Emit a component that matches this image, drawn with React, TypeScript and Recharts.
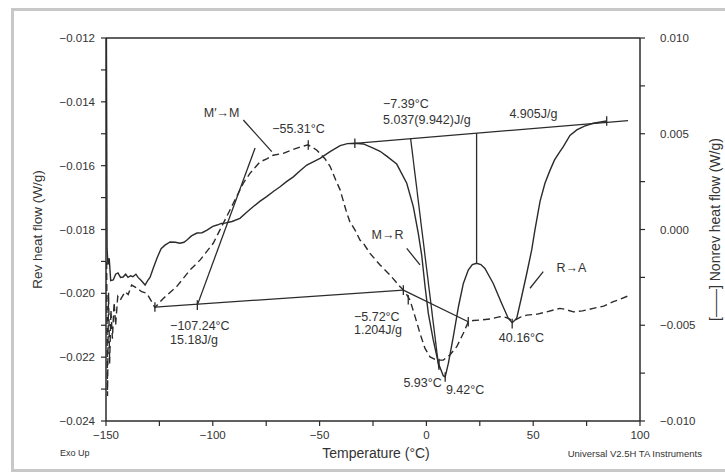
import React from 'react';
import { ComposedChart, Line, XAxis, YAxis, ReferenceLine, ReferenceDot, Label } from 'recharts';

// Reversing heat flow (solid curve, left axis, W/g)
const revTemp = [
  -149.8, -149.5, -149.1, -148.5, -147.8, -146.6, -145.5, -144.4, -143.2, -142.0,
  -140.8, -139.7, -138.5, -137.4, -136.0, -135.0, -133.5, -131.7, -130.5, -129.4,
  -127.8, -126.1, -124.2, -122.4, -120.0, -117.5, -115.4, -113.5, -112.1, -110.0,
  -107.4, -105.0, -102.7, -100.0, -98.0, -96.0, -94.3, -91.0, -87.3, -84.0,
  -81.0, -78.0, -74.8, -71.5, -68.5, -65.5, -62.3, -59.0, -56.0, -53.0,
  -49.8, -45.1, -40.4, -37.0, -33.5, -29.5, -24.9, -21.7, -18.6, -13.9,
  -9.2, -6.1, -3.8, -2.2, -0.6, 0.9, 3.2, 5.6, 7.9, 8.8,
  10.3, 12.6, 15.0, 17.3, 19.6, 21.5, 23.5, 25.5, 27.4, 31.3,
  35.2, 38.3, 40.2, 42.3, 44.6, 47.0, 49.3, 50.8, 53.2, 55.5,
  57.9, 60.0, 62.5, 64.1, 67.2, 70.4, 74.0, 78.1, 84.4,
];
const revFlow = [
  -0.0120, -0.0186, -0.0191, -0.0189, -0.0196, -0.01958, -0.0194, -0.01936, -0.0195, -0.01949,
  -0.0194, -0.0195, -0.01945, -0.01948, -0.0194, -0.0195, -0.0196, -0.01974, -0.0196, -0.0195,
  -0.0192, -0.01889, -0.0186, -0.01849, -0.01839, -0.0184, -0.01843, -0.0184, -0.01833, -0.0182,
  -0.01811, -0.0181, -0.01802, -0.0179, -0.01786, -0.01781, -0.0178, -0.01775, -0.01765, -0.01745,
  -0.01728, -0.01712, -0.01697, -0.0168, -0.01666, -0.0165, -0.01635, -0.01615, -0.01598, -0.01588,
  -0.01577, -0.01556, -0.01537, -0.01531, -0.0153, -0.01532, -0.01545, -0.01555, -0.0157, -0.01595,
  -0.01655, -0.01729, -0.01812, -0.0188, -0.0198, -0.02063, -0.02146, -0.02219, -0.02258, -0.02262,
  -0.02219, -0.02136, -0.02042, -0.01969, -0.01927, -0.0191, -0.01906, -0.0191, -0.01922, -0.01969,
  -0.02031, -0.02078, -0.02092, -0.02078, -0.0201, -0.01937, -0.01864, -0.01802, -0.01712, -0.01655,
  -0.01614, -0.01582, -0.01556, -0.0154, -0.01505, -0.01488, -0.01476, -0.01467, -0.0146,
];

// Non-reversing heat flow (dashed curve, right axis, W/g)
const nonrevTemp = [
  -149.7, -149.3, -148.8, -148.3, -147.7, -147.0, -146.2, -145.5, -144.5, -143.4,
  -141.1, -139.6, -138.0, -135.6, -133.3, -130.9, -128.6, -127.1, -123.2, -116.9,
  -110.7, -106.0, -99.8, -95.1, -90.4, -85.7, -82.6, -77.9, -74.5, -71.7,
  -67.0, -62.4, -58.5, -55.3, -51.4, -47.5, -45.1, -42.5, -40.4, -37.3,
  -35.8, -33.4, -31.1, -29.5, -26.4, -21.7, -17.0, -12.4, -10.0, -7.7,
  -5.3, -3.0, -0.7, 1.7, 4.8, 7.9, 11.0, 14.2, 17.3, 19.6,
  22.0, 25.1, 30.0, 34.5, 37.5, 39.9, 42.0, 44.0, 47.0, 52.0,
  56.3, 62.5, 65.0, 68.8, 73.0, 78.1, 83.0, 87.5, 91.0, 94.4,
];
const nonrevFlow = [
  -0.0017, -0.0087, -0.0033, -0.0070, -0.0042, -0.0057, -0.0038, -0.0050, -0.0035, -0.0037,
  -0.00325, -0.0034, -0.0029, -0.00305, -0.00325, -0.00333, -0.00377, -0.00408, -0.0036, -0.00298,
  -0.00212, -0.0016, -0.00072, 0.00032, 0.00137, 0.00242, 0.00293, 0.00353, 0.0037, 0.00388,
  0.00398, 0.00418, 0.00433, 0.00442, 0.00415, 0.0037, 0.0033, 0.0026, 0.00207, 0.00087,
  0.0004, -0.00003, -0.00055, -0.00072, -0.00125, -0.00185, -0.00238, -0.00298, -0.00325, -0.00368,
  -0.00455, -0.00542, -0.0062, -0.00665, -0.00682, -0.00682, -0.00655, -0.00612, -0.00542, -0.00482,
  -0.00475, -0.00473, -0.00467, -0.00455, -0.0046, -0.00473, -0.0047, -0.00458, -0.00447, -0.00442,
  -0.0043, -0.00412, -0.00417, -0.0043, -0.00425, -0.00412, -0.004, -0.00377, -0.00363, -0.00347,
];

// Axis ticks
const xTicks = [-150, -125, -100, -75, -50, -25, 0, 25, 50, 75, 100];
const leftTicks = [-0.024, -0.023, -0.022, -0.021, -0.020, -0.019, -0.018, -0.017, -0.016, -0.015, -0.014, -0.013, -0.012];
const rightTicks = [-0.01, -0.0075, -0.005, -0.0025, 0, 0.0025, 0.005, 0.0075, 0.01];

// Construction lines (left-axis units): [t1, y1, t2, y2]
const constructionLines = [
  [-107.24, -0.02037, -80.2, -0.015446],
  [-127.1, -0.02043, -10.8, -0.0199],
  [-10.8, -0.0199, 19.6, -0.02089],
  [-33.5, -0.0153, 94.4, -0.01459],
  [-7.39, -0.01515, 5.93, -0.0224],
  [23.5, -0.01498, 23.5, -0.01906],
  [-85.7, -0.01457, -72.4, -0.01556],
  [-9.2, -0.01859, -3.0, -0.01911],
  [54.7, -0.01932, 48.5, -0.01984],
];
// Small vertical markers (left-axis units)
const markerTemp = [-127.1, -107.24, -55.31, -33.5, 84.4, -10.8, -8.5, 19.6, 40.16, 8.8, 5.93];
const markerFlow = [-0.02043, -0.02037, -0.01535, -0.0153, -0.0146, -0.0199, -0.0202, -0.02089, -0.02095, -0.02262, -0.0222];

// Annotation texts: [text, t, y(left units), anchor]
const annotations: [string, number, number, string][] = [
  ['M\u2032\u2192M', -95.9, -0.014334, 'center'],
  ['\u221255.31\u00b0C', -59.9, -0.014829, 'center'],
  ['\u22127.39\u00b0C', -20.3, -0.014068, 'start'],
  ['5.037(9.942)J/g', -20.3, -0.014569, 'start'],
  ['4.905J/g', 50.1, -0.014359, 'center'],
  ['M\u2192R', -18.2, -0.018172, 'center'],
  ['R\u2192A', 67.9, -0.019206, 'center'],
  ['\u22125.72\u00b0C', -33.9, -0.020741, 'start'],
  ['1.204J/g', -33.9, -0.021149, 'start'],
  ['5.93\u00b0C', -1.8, -0.022809, 'center'],
  ['9.42\u00b0C', 18.1, -0.023029, 'center'],
  ['40.16\u00b0C', 44.5, -0.0214, 'center'],
  ['\u2212107.24\u00b0C', -120.0, -0.021024, 'start'],
  ['15.18J/g', -120.0, -0.021462, 'start'],
];

const revData = revTemp.map((t, i) => ({ t, v: revFlow[i] }));
const nonrevData = nonrevTemp.map((t, i) => ({ t, v: nonrevFlow[i] }));

const FONT = '"Liberation Sans", Arial, Helvetica, sans-serif';
const INK = '#2b2b2b';
const TXT = '#333';

const fmt = (v: number) => (v < -1e-9 ? '\u2212' : '') + Math.abs(v).toFixed(3);

const LeftTitle = (p: any) => {
  const vb = p.viewBox;
  const cx = vb.x + 37;
  const cy = vb.y + vb.height / 2;
  return (
    <text x={cx} y={cy} transform={`rotate(-90 ${cx} ${cy})`} textAnchor="middle" dominantBaseline="central"
      fontSize={13.5} fill={TXT} fontFamily={FONT}>Rev heat flow (W/g)</text>
  );
};
const RightTitle = (p: any) => {
  const vb = p.viewBox;
  const cx = vb.x + 75;
  const cy = vb.y + vb.height / 2;
  return (
    <text x={cx} y={cy} transform={`rotate(-90 ${cx} ${cy})`} textAnchor="middle" dominantBaseline="central"
      fontSize={14} fill={TXT} fontFamily={FONT}>[{'\u2014\u2014'}] Nonrev heat flow (W/g)</text>
  );
};
const BottomTitle = (p: any) => {
  const vb = p.viewBox;
  return (
    <text x={vb.x + 270} y={vb.y + 32} textAnchor="middle" dominantBaseline="central"
      fontSize={14} fill={TXT} fontFamily={FONT}>Temperature (°C)</text>
  );
};
const ExoUp = (p: any) => {
  const vb = p.viewBox;
  return (
    <text x={vb.x - 46} y={vb.y + 32} textAnchor="start" dominantBaseline="central"
      fontSize={9} fill={TXT} fontFamily={FONT}>Exo Up</text>
  );
};
const Credit = (p: any) => {
  const vb = p.viewBox;
  return (
    <text x={vb.x + vb.width + 62} y={vb.y + 32} textAnchor="end" dominantBaseline="central"
      fontSize={9.5} fill={TXT} fontFamily={FONT}>Universal V2.5H TA Instruments</text>
  );
};

const tickStyle = { fontSize: 11.5, fill: TXT, fontFamily: FONT };

export default function App() {
  return (
    <div style={{ position: 'relative', width: 725, height: 476, overflow: 'hidden', background: '#fff' }}>
      <style>{`body{margin:0;background:#fff;}`}</style>
      <div style={{ position: 'absolute', left: 11, top: 8, width: 740, height: 458, border: '3px solid #c8c8c8' }} />
      <div style={{ position: 'absolute', left: 0, top: 0 }}>
        <ComposedChart width={725} height={476} margin={{ top: 38, right: 0, bottom: 0, left: 0 }}>
          <XAxis
            dataKey="t"
            type="number"
            domain={[-150, 100]}
            allowDataOverflow
            ticks={xTicks}
            interval={0}
            height={55}
            tickSize={5}
            tickMargin={5}
            tickFormatter={(v: number) => (v % 50 === 0 ? (v < 0 ? '\u2212' + Math.abs(v) : String(v)) : '')}
            tick={tickStyle}
            stroke={INK}
            axisLine={{ stroke: INK, strokeWidth: 1.5 }}
            tickLine={{ stroke: INK, strokeWidth: 1.2 }}
          >
            <Label content={BottomTitle} />
            <Label content={ExoUp} />
            <Label content={Credit} />
          </XAxis>
          <YAxis
            yAxisId="left"
            orientation="left"
            type="number"
            domain={[-0.024, -0.012]}
            allowDataOverflow
            ticks={leftTicks}
            interval={0}
            width={106}
            tickSize={5}
            tickMargin={6}
            tickFormatter={(v: number) => (Math.round(v * 1000) % 2 === 0 ? fmt(v) : '')}
            tick={tickStyle}
            stroke={INK}
            axisLine={{ stroke: INK, strokeWidth: 1.5 }}
            tickLine={{ stroke: INK, strokeWidth: 1.2 }}
          >
            <Label content={LeftTitle} />
          </YAxis>
          <YAxis
            yAxisId="right"
            orientation="right"
            type="number"
            domain={[-0.01, 0.01]}
            allowDataOverflow
            ticks={rightTicks}
            interval={0}
            width={85}
            tickSize={5}
            tickMargin={15}
            tickFormatter={(v: number) => (Math.round(v * 10000) % 50 === 0 ? fmt(v) : '')}
            tick={tickStyle}
            stroke={INK}
            axisLine={{ stroke: INK, strokeWidth: 1.5 }}
            tickLine={{ stroke: INK, strokeWidth: 1.2 }}
          >
            <Label content={RightTitle} />
          </YAxis>

          <ReferenceLine yAxisId="left" y={-0.012} stroke={INK} strokeWidth={1.5} ifOverflow="visible" />

          {constructionLines.map((s, i) => (
            <ReferenceLine
              key={'c' + i}
              yAxisId="left"
              segment={[{ x: s[0], y: s[1] }, { x: s[2], y: s[3] }]}
              stroke={INK}
              strokeWidth={1.3}
              ifOverflow="visible"
            />
          ))}
          {markerTemp.map((t, i) => (
            <ReferenceLine
              key={'m' + i}
              yAxisId="left"
              segment={[{ x: t, y: markerFlow[i] + 0.00015 }, { x: t, y: markerFlow[i] - 0.00015 }]}
              stroke={INK}
              strokeWidth={1.3}
              ifOverflow="visible"
            />
          ))}

          <Line
            yAxisId="left"
            data={revData}
            dataKey="v"
            type="linear"
            dot={false}
            activeDot={false}
            stroke={INK}
            strokeWidth={1.4}
            isAnimationActive={false}
          />
          <Line
            yAxisId="right"
            data={nonrevData}
            dataKey="v"
            type="linear"
            dot={false}
            activeDot={false}
            stroke={INK}
            strokeWidth={1.4}
            strokeDasharray="7 4"
            isAnimationActive={false}
          />

          {annotations.map((a, i) => (
            <ReferenceDot
              key={'a' + i}
              yAxisId="left"
              x={a[1]}
              y={a[2]}
              r={0}
              fill="none"
              stroke="none"
              ifOverflow="visible"
              label={{
                value: a[0],
                position: a[3] === 'start' ? 'right' : 'center',
                offset: 0,
                fill: TXT,
                fontSize: 12.5,
                fontFamily: FONT,
              }}
            />
          ))}
        </ComposedChart>
      </div>
    </div>
  );
}
